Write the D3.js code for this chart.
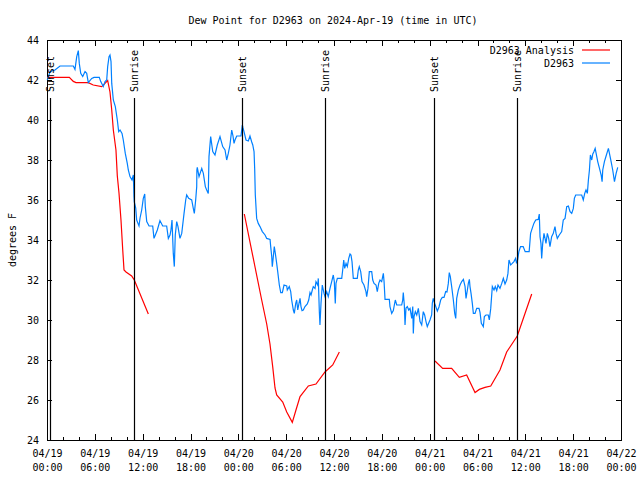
<!DOCTYPE html>
<html>
<head>
<meta charset="utf-8">
<script src="https://cdn.jsdelivr.net/npm/d3@7"></script>
<style>
  html, body { margin: 0; padding: 0; background: #fff; }
  svg { display: block; }
  text { font-family: "DejaVu Sans Mono", "Liberation Mono", monospace; font-size: 10px; fill: #000; }
</style>
</head>
<body>
<svg id="chart" width="640" height="480"></svg>
<script>
// ---- data (hours since 2024-04-19 00:00 UTC, dew point in deg F) ----
const titleText = "Dew Point for D2963 on 2024-Apr-19 (time in UTC)";
const yLabelText = "degrees F";
const seriesNames = ["D2963 Analysis", "D2963"];
const yTicks = [24, 26, 28, 30, 32, 34, 36, 38, 40, 42, 44];
const xMajorHours = [0, 6, 12, 18, 24, 30, 36, 42, 48, 54, 60, 66, 72];
const xMinorHours = d3.range(0, 73, 2);

const sunEvents = [
  [0.4, "Sunset"], [10.95, "Sunrise"], [24.5, "Sunset"],
  [34.9, "Sunrise"], [48.5, "Sunset"], [58.97, "Sunrise"]
];

const analysisSeg1 = [
  [0,42.13],[2.80,42.13],[3.30,41.93],[3.64,41.87],[5.18,41.87],[5.80,41.75],[6.86,41.67],
  [7.15,41.78],[7.61,41.97],[7.90,41.4],[8.12,40.5],[8.32,39.5],[8.65,38.5],[8.82,37.2],
  [9.03,36.35],[9.28,35.0],[9.50,33.5],[9.66,32.5],[9.91,32.4],[10.62,32.2],[10.95,32.0],[12.71,30.3]
];
const analysisSeg2 = [
  [24.75,35.3],[26.93,31.0],[27.56,29.8],[27.97,28.8],[28.31,27.67],[28.60,26.6],[28.81,26.25],
  [29.57,25.9],[30.07,25.4],[30.77,24.88],[31.23,25.5],[31.74,26.17],[32.78,26.7],[33.74,26.8],
  [34.87,27.4],[35.84,27.75],[36.67,28.4]
];
const analysisSeg3 = [
  [48.67,27.95],[49.63,27.58],[50.76,27.58],[51.72,27.13],[52.64,27.25],[53.69,26.37],[54.23,26.53],
  [54.94,26.63],[55.66,26.7],[56.82,27.5],[57.66,28.4],[58.99,29.2],[60.80,31.3]
];

const dewPoints = [
  [0.04,42.0],[0.38,42.42],[1.00,42.5],[1.63,42.7],[3.30,42.7],[3.51,42.53],[3.73,43.17],[3.93,43.47],
  [4.05,42.83],[4.23,42.33],[4.48,42.17],[4.77,42.42],[4.98,42.33],[5.18,41.87],[5.61,42.08],[5.90,42.13],
  [6.56,42.13],[6.74,41.92],[7.06,41.67],[7.28,41.92],[7.49,42.0],[7.61,42.67],[7.78,43.17],[7.90,43.25],
  [8.03,42.92],[8.12,41.83],[8.32,41.0],[8.57,40.67],[8.82,40.0],[8.99,39.42],[9.16,39.5],[9.41,39.33],
  [9.57,39.0],[9.82,38.33],[10.07,37.83],[10.20,37.5],[10.41,37.17],[10.66,37.0],[10.83,37.25],[10.91,36.17],
  [10.95,35.9],[11.13,35.6],[11.25,35.0],[11.41,34.83],[11.54,34.7],[11.67,35.1],[11.88,35.5],[12.08,36.08],
  [12.26,36.3],[12.33,35.67],[12.51,34.92],[12.80,34.7],[13.26,34.7],[13.42,34.08],[13.59,34.25],[13.84,34.5],
  [14.17,34.97],[14.51,34.7],[15.01,34.7],[15.22,34.08],[15.43,34.25],[15.55,34.5],[15.68,35.0],[15.84,33.33],
  [15.97,32.67],[16.09,34.25],[16.27,34.92],[16.43,34.67],[16.68,34.08],[16.90,34.33],[17.19,35.33],[17.40,36.0],
  [17.52,36.25],[17.77,36.08],[18.15,36.0],[18.35,35.58],[18.48,35.33],[18.65,36.0],[18.78,36.67],[18.80,37.5],
  [18.85,37.63],[19.07,37.17],[19.41,37.58],[19.61,37.33],[19.86,36.67],[20.03,36.5],[20.23,36.33],[20.32,38.17],
  [20.53,39.17],[20.79,38.42],[21.07,38.25],[21.36,38.75],[21.70,39.17],[22.04,38.67],[22.33,38.5],[22.54,38.0],
  [22.74,38.33],[22.95,38.75],[23.17,39.5],[23.33,39.2],[23.46,38.83],[23.58,39.0],[23.80,39.2],[24.33,39.2],
  [24.50,39.75],[24.59,39.6],[24.71,39.42],[24.96,39.0],[25.25,38.95],[25.46,39.2],[25.68,38.9],[25.81,38.75],
  [25.97,38.42],[26.05,37.58],[26.13,36.25],[26.30,35.08],[26.50,34.83],[26.72,34.67],[27.01,34.42],[27.35,34.25],
  [27.56,34.08],[27.98,34.03],[28.06,33.67],[28.19,33.17],[28.26,32.67],[28.39,33.17],[28.51,33.67],[28.64,33.33],
  [28.81,32.83],[28.94,32.42],[29.14,31.75],[29.32,31.37],[29.52,31.37],[29.73,31.75],[30.07,31.7],[30.14,31.5],
  [30.39,31.67],[30.57,31.42],[30.69,31.0],[30.90,30.5],[31.02,30.33],[31.20,30.83],[31.32,31.0],[31.45,30.5],
  [31.61,30.83],[31.74,31.08],[31.86,30.67],[31.99,30.47],[32.15,30.5],[32.36,30.67],[32.65,30.8],[32.83,31.0],
  [32.99,31.37],[33.12,31.25],[33.28,31.5],[33.40,31.67],[33.62,31.58],[33.74,31.92],[33.96,31.75],[34.03,32.08],
  [34.16,30.42],[34.24,29.75],[34.37,30.83],[34.53,31.75],[34.75,31.33],[34.87,31.17],[35.08,31.42],[35.28,31.17],
  [35.50,31.58],[35.71,31.92],[35.91,32.25],[36.04,31.92],[36.16,30.83],[36.25,31.83],[36.42,32.08],[36.97,32.08],
  [37.09,32.5],[37.22,33.0],[37.34,32.58],[37.51,32.83],[37.67,32.67],[37.85,33.08],[38.01,33.3],[38.13,33.25],
  [38.26,32.92],[38.42,32.08],[38.92,32.08],[39.05,32.5],[39.17,32.67],[39.35,32.42],[39.51,31.92],[39.76,31.75],
  [40.01,31.42],[40.10,31.17],[40.26,31.58],[40.43,32.42],[40.73,32.42],[40.86,32.0],[41.02,31.83],[41.27,31.75],
  [41.43,31.42],[41.61,31.83],[41.77,32.0],[41.98,31.92],[42.19,32.33],[42.28,31.92],[42.40,31.03],[42.94,31.03],
  [43.02,30.67],[43.24,30.33],[43.44,30.47],[43.57,30.75],[43.69,31.0],[43.87,30.75],[43.99,30.75],[44.49,30.75],
  [44.62,31.0],[44.69,31.37],[44.82,30.75],[44.91,29.75],[45.03,30.6],[45.20,30.67],[45.37,30.5],[45.54,30.58],
  [45.75,30.08],[45.88,30.67],[45.95,29.33],[46.04,30.17],[46.20,30.42],[46.38,30.25],[46.58,30.58],[46.79,29.92],
  [47.00,29.75],[47.20,30.42],[47.37,30.25],[47.54,29.92],[47.70,29.67],[48.04,30.0],[48.25,30.25],[48.33,30.83],
  [48.45,31.08],[48.63,30.83],[48.96,30.45],[49.17,30.65],[49.38,31.0],[49.58,31.13],[49.80,31.13],[50.01,31.42],
  [50.17,31.4],[50.34,31.83],[50.46,32.37],[50.59,32.17],[50.76,31.67],[50.97,31.0],[51.14,30.33],[51.27,30.08],
  [51.39,31.08],[51.60,31.5],[51.81,31.75],[52.02,31.92],[52.23,32.03],[52.44,31.67],[52.56,31.08],[52.73,31.5],
  [52.85,31.83],[52.98,32.03],[53.06,31.67],[53.19,31.33],[53.35,30.83],[53.48,30.33],[53.69,30.33],[53.90,30.58],
  [54.19,30.58],[54.32,30.37],[54.48,29.83],[54.73,29.67],[54.86,30.17],[55.06,30.25],[55.35,30.25],[55.48,30.0],
  [55.66,30.58],[55.86,31.67],[56.07,31.5],[56.23,31.67],[56.41,31.47],[56.57,31.75],[56.82,31.58],[57.04,31.83],
  [57.24,32.08],[57.45,31.8],[57.66,32.0],[57.82,32.33],[57.95,33.0],[58.16,32.75],[58.36,32.83],[58.57,32.92],
  [58.78,33.08],[58.90,32.83],[59.03,33.0],[59.19,33.42],[59.40,33.67],[59.73,33.67],[59.98,33.42],[60.48,33.42],
  [60.66,34.33],[60.86,34.58],[61.07,34.83],[61.30,35.0],[61.62,35.03],[61.75,35.3],[61.84,34.17],[61.96,33.83],
  [62.05,33.08],[62.18,33.83],[62.34,34.33],[62.47,34.08],[62.59,33.83],[62.76,34.33],[62.93,34.08],[63.09,33.67],
  [63.30,34.17],[63.51,34.33],[63.72,34.67],[63.85,34.33],[64.01,34.08],[64.26,34.25],[64.56,34.42],[64.76,35.0],
  [64.98,35.08],[65.19,35.67],[65.40,35.7],[65.61,35.42],[65.82,35.33],[66.02,35.58],[66.15,36.08],[66.32,36.25],
  [67.07,36.25],[67.27,36.0],[67.45,36.33],[67.61,36.5],[67.78,36.33],[67.91,37.0],[68.04,37.5],[68.16,38.25],
  [68.33,38.0],[68.46,38.3],[68.59,38.4],[68.76,38.58],[68.88,38.33],[69.08,37.92],[69.30,37.58],[69.51,37.25],
  [69.63,36.92],[69.71,37.5],[69.92,37.92],[70.13,38.2],[70.42,38.58],[70.55,38.33],[70.76,37.92],[70.96,37.5],
  [71.18,36.92],[71.39,37.33],[71.59,37.63]
];

// ---- drawing ----
const t0 = Date.UTC(2024, 3, 19, 0, 0, 0);
const toDate = h => new Date(t0 + h * 3600e3);

const W = 640, H = 480;
const margin = { left: 47, right: 19, top: 40, bottom: 40 };
const svg = d3.select("#chart");

const x = d3.scaleUtc()
  .domain([toDate(0), toDate(72)])
  .range([margin.left, W - margin.right]);
const y = d3.scaleLinear()
  .domain([24, 44])
  .range([H - margin.bottom, margin.top]);

const RED = "#ff0000", BLUE = "#0080ff";

// Title
svg.append("text")
  .attr("x", 333).attr("y", 24)
  .attr("text-anchor", "middle")
  .text(titleText);

// Y label
svg.append("text")
  .attr("transform", "translate(12," + ((y(24) + y(44)) / 2) + ") rotate(-90)")
  .attr("text-anchor", "middle")
  .attr("dy", "0.35em")
  .text(yLabelText);

// Axes
const fmtDate = d3.utcFormat("%m/%d"), fmtTime = d3.utcFormat("%H:%M");

const gx = svg.append("g")
  .attr("transform", "translate(0," + y(24) + ")")
  .call(d3.axisBottom(x).tickValues(xMajorHours.map(toDate)).tickSize(-6).tickPadding(6).tickFormat(""));
gx.selectAll(".tick text").each(function(d) {
  const t = d3.select(this);
  t.attr("y", null).attr("dy", null);
  t.append("tspan").attr("x", 0).attr("y", 17).text(fmtDate(d));
  t.append("tspan").attr("x", 0).attr("y", 31).text(fmtTime(d));
});
svg.append("g")
  .attr("transform", "translate(0," + y(24) + ")")
  .call(d3.axisBottom(x).tickValues(xMinorHours.map(toDate)).tickSize(-3).tickFormat(""));
svg.append("g")
  .attr("transform", "translate(0," + y(44) + ")")
  .call(d3.axisTop(x).tickValues(xMajorHours.map(toDate)).tickSize(-6).tickFormat(""));
svg.append("g")
  .attr("transform", "translate(0," + y(44) + ")")
  .call(d3.axisTop(x).tickValues(xMinorHours.map(toDate)).tickSize(-3).tickFormat(""));

svg.append("g")
  .attr("transform", "translate(" + margin.left + ",0)")
  .call(d3.axisLeft(y).tickValues(yTicks).tickSize(-5).tickPadding(8).tickFormat(d3.format("d")));
svg.append("g")
  .attr("transform", "translate(" + (W - margin.right) + ",0)")
  .call(d3.axisRight(y).tickValues(yTicks).tickSize(-5).tickFormat(""));

svg.selectAll(".domain").remove();
svg.selectAll(".tick line").attr("stroke", "#000").attr("shape-rendering", "crispEdges");
svg.selectAll(".tick text").attr("font-family", null).attr("font-size", null).attr("fill", "#000");

// Border
svg.append("rect")
  .attr("x", margin.left).attr("y", margin.top)
  .attr("width", W - margin.right - margin.left)
  .attr("height", H - margin.bottom - margin.top)
  .attr("fill", "none").attr("stroke", "#000").attr("stroke-width", 1)
  .attr("shape-rendering", "crispEdges");

// Data lines
const line = d3.line().x(d => x(toDate(d[0]))).y(d => y(d[1]));
[analysisSeg1, analysisSeg2, analysisSeg3].forEach(seg => {
  svg.append("path").datum(seg)
    .attr("d", line).attr("fill", "none")
    .attr("stroke", RED).attr("stroke-width", 1.2).attr("stroke-linejoin", "miter");
});
svg.append("path").datum(dewPoints)
  .attr("d", line).attr("fill", "none")
  .attr("stroke", BLUE).attr("stroke-width", 1.2).attr("stroke-linejoin", "miter");

// Sunrise / Sunset markers
const ev = svg.append("g").selectAll("g").data(sunEvents).join("g");
ev.append("line")
  .attr("x1", d => Math.round(x(toDate(d[0]))) + 0.5)
  .attr("x2", d => Math.round(x(toDate(d[0]))) + 0.5)
  .attr("y1", 98).attr("y2", y(24))
  .attr("stroke", "#000").attr("stroke-width", 1.2);
ev.append("text")
  .attr("transform", d => "translate(" + (Math.round(x(toDate(d[0]))) + 0.5) + ",92) rotate(-90)")
  .attr("text-anchor", "start")
  .attr("dy", "0.35em")
  .text(d => d[1]);

// Legend
const legend = svg.append("g").selectAll("g").data(seriesNames).join("g")
  .attr("transform", (d, i) => "translate(0," + (50 + i * 13) + ")");
legend.append("text")
  .attr("x", 574).attr("y", 0).attr("dy", "0.35em")
  .attr("text-anchor", "end")
  .text(d => d);
legend.append("line")
  .attr("x1", 582).attr("x2", 610).attr("y1", 0).attr("y2", 0)
  .attr("stroke", (d, i) => i === 0 ? RED : BLUE).attr("stroke-width", 1.2);
</script>
</body>
</html>
